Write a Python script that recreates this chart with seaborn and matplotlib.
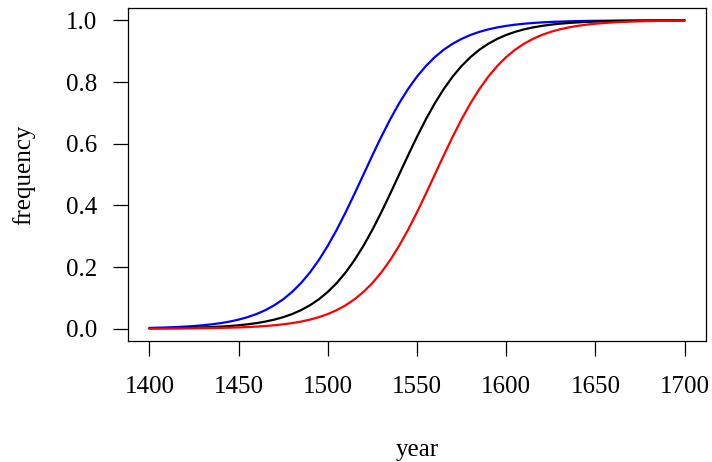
import matplotlib
matplotlib.use("Agg")
import matplotlib.pyplot as plt
import seaborn as sns
import pandas as pd

years = list(range(1400, 1701, 5))

blue_vals = [0.0025, 0.0032, 0.0041, 0.0052, 0.0067, 0.0086, 0.0110, 0.0141, 0.0180, 0.0230,
             0.0293, 0.0373, 0.0474, 0.0601, 0.0759, 0.0953, 0.1192, 0.1480, 0.1824, 0.2227,
             0.2689, 0.3208, 0.3775, 0.4378, 0.5000, 0.5622, 0.6225, 0.6792, 0.7311, 0.7773,
             0.8176, 0.8520, 0.8808, 0.9047, 0.9241, 0.9399, 0.9526, 0.9627, 0.9707, 0.9770,
             0.9820, 0.9859, 0.9890, 0.9914, 0.9933, 0.9948, 0.9959, 0.9968, 0.9975, 0.9981,
             0.9985, 0.9988, 0.9991, 0.9993, 0.9994, 0.9996, 0.9997, 0.9997, 0.9998, 0.9998,
             0.9999]

black_vals = [0.0009, 0.0012, 0.0015, 0.0019, 0.0025, 0.0032, 0.0041, 0.0052, 0.0067, 0.0086,
              0.0110, 0.0141, 0.0180, 0.0230, 0.0293, 0.0373, 0.0474, 0.0601, 0.0759, 0.0953,
              0.1192, 0.1480, 0.1824, 0.2227, 0.2689, 0.3208, 0.3775, 0.4378, 0.5000, 0.5622,
              0.6225, 0.6792, 0.7311, 0.7773, 0.8176, 0.8520, 0.8808, 0.9047, 0.9241, 0.9399,
              0.9526, 0.9627, 0.9707, 0.9770, 0.9820, 0.9859, 0.9890, 0.9914, 0.9933, 0.9948,
              0.9959, 0.9968, 0.9975, 0.9981, 0.9985, 0.9988, 0.9991, 0.9993, 0.9994, 0.9996,
              0.9997]

red_vals = [0.0003, 0.0004, 0.0006, 0.0007, 0.0009, 0.0012, 0.0015, 0.0019, 0.0025, 0.0032,
            0.0041, 0.0052, 0.0067, 0.0086, 0.0110, 0.0141, 0.0180, 0.0230, 0.0293, 0.0373,
            0.0474, 0.0601, 0.0759, 0.0953, 0.1192, 0.1480, 0.1824, 0.2227, 0.2689, 0.3208,
            0.3775, 0.4378, 0.5000, 0.5622, 0.6225, 0.6792, 0.7311, 0.7773, 0.8176, 0.8520,
            0.8808, 0.9047, 0.9241, 0.9399, 0.9526, 0.9627, 0.9707, 0.9770, 0.9820, 0.9859,
            0.9890, 0.9914, 0.9933, 0.9948, 0.9959, 0.9968, 0.9975, 0.9981, 0.9985, 0.9988,
            0.9991]

series_names = ["blue", "black", "red"]
xticks = [1400, 1450, 1500, 1550, 1600, 1650, 1700]
yticks = [0.0, 0.2, 0.4, 0.6, 0.8, 1.0]

df = pd.concat([
    pd.DataFrame({"year": years, "frequency": vals, "series": name})
    for name, vals in zip(series_names, [blue_vals, black_vals, red_vals])
], ignore_index=True)

sns.set_style("white")
plt.rcParams["font.family"] = ["Liberation Serif", "DejaVu Serif"]

fig = plt.figure(figsize=(7.12, 4.62), dpi=100)
ax = fig.add_axes([128 / 712, 1 - 341 / 462, (706 - 128) / 712, (341 - 8) / 462])

sns.lineplot(data=df, x="year", y="frequency", hue="series",
             palette={"blue": "#0000ff", "black": "#000000", "red": "#ff0000"},
             linewidth=1.6, legend=False, ax=ax, sort=True)

ax.set_xlim(1388, 1712)
ax.set_ylim(-0.04, 1.04)
ax.set_xticks(xticks)
ax.set_xticklabels([str(t) for t in xticks])
ax.set_yticks(yticks)
ax.set_yticklabels([f"{t:.1f}" for t in yticks])
ax.tick_params(axis="both", direction="out", length=11, width=0.9, color="black",
               labelsize=18, labelcolor="black", bottom=True, left=True)
ax.tick_params(axis="x", pad=14)
ax.tick_params(axis="y", pad=11)
for s in ax.spines.values():
    s.set_visible(True)
    s.set_color("black")
    s.set_linewidth(0.9)
ax.set_xlabel("year", fontsize=18, labelpad=30, color="black")
ax.set_ylabel("frequency", fontsize=18, labelpad=22, color="black")

fig.savefig("out.png", dpi=100)
